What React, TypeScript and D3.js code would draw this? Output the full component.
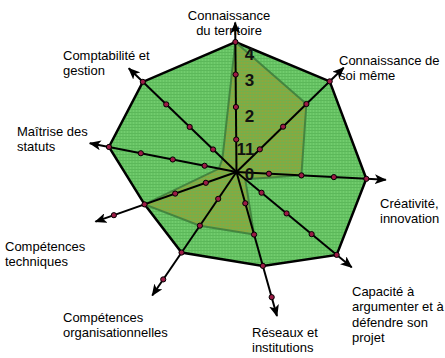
import * as d3 from "d3";

// axis categories (one entry per spoke, split over lines as in the picture)
const categories: string[][] = [
  ["Connaissance", "du territoire"],
  ["Connaissance de", "soi même"],
  ["Créativité,", "innovation"],
  ["Capacité à", "argumenter et à", "défendre son", "projet"],
  ["Réseaux et", "institutions"],
  ["Compétences", "organisationnelles"],
  ["Compétences", "techniques"],
  ["Maîtrise des", "statuts"],
  ["Comptabilité et", "gestion"],
];

// series values
const targetValues = [4, 4, 4, 4, 3, 3, 3, 4, 4];
const actualValues = [4, 3, 2, 0.35, 2, 2, 3, 0.55, 0.6];

// radial tick labels
const tickValues = [0, 1, 2, 3, 4];
const tickLabels = ["0", "11", "2", "3", "4"];

// layout: spoke directions (degrees, clockwise from up) — the source chart is not evenly spaced
const spokeAngles = [-0.5, 45.8, 93, 129.6, 164.3, 214.3, 250.6, 281.1, 313.9];
// layout: label anchors [x, first baseline, text-anchor]
const labelPos: [number, number, string][] = [
  [229, 20, "middle"],
  [339, 65, "start"],
  [380, 208, "start"],
  [352, 296, "start"],
  [252, 337, "start"],
  [63, 322, "start"],
  [5, 251, "start"],
  [17, 136, "start"],
  [63, 60, "start"],
];

const W = 445;
const H = 358;
const cx = 236.5;
const cy = 172;
const FONT = "Arial, 'Liberation Sans', sans-serif";

export default function App() {
  const r = d3.scaleLinear().domain([0, 4]).range([0, 130]);
  const axisEnd = 4.6;
  const rad = (i: number) => (spokeAngles[i] * Math.PI) / 180;

  const radar = d3
    .lineRadial<number>()
    .angle((_, i) => rad(i))
    .radius((d) => r(d))
    .curve(d3.curveLinearClosed);

  const levels = tickValues.filter((v) => v > 0);

  return (
    <svg
      width={W}
      height={H}
      style={{ position: "absolute", left: 0, top: 0, background: "#fff" }}
      fontFamily={FONT}
    >
      <defs>
        <pattern id="gGreen" width={3} height={3} patternUnits="userSpaceOnUse">
          <rect width={3} height={3} fill="#72cd6e" />
          <path d="M0 0.5H3M0.5 0V3" stroke="#5cb85a" strokeWidth={1} />
        </pattern>
        <pattern id="gOlive" width={3} height={3} patternUnits="userSpaceOnUse">
          <rect width={3} height={3} fill="#8fa63c" />
          <path d="M0 0.5H3M0.5 0V3" stroke="#72b04c" strokeWidth={1} />
        </pattern>
        <marker
          id="arrow"
          viewBox="0 0 12 10"
          refX={11}
          refY={5}
          markerWidth={12}
          markerHeight={10}
          markerUnits="userSpaceOnUse"
          orient="auto"
        >
          <path d="M0 0L12 5L0 10L3 5Z" fill="#000" />
        </marker>
      </defs>

      <g transform={`translate(${cx},${cy})`}>
        <path
          d={radar(targetValues) ?? ""}
          fill="url(#gGreen)"
          stroke="#000"
          strokeWidth={2.5}
          strokeLinejoin="miter"
        />
        <path
          d={radar(actualValues) ?? ""}
          fill="url(#gOlive)"
          stroke="#3c7d3c"
          strokeOpacity={0.85}
          strokeWidth={2}
        />

        {categories.map((_, i) => {
          const [x2, y2] = d3.pointRadial(rad(i), r(axisEnd));
          return (
            <line
              key={`ax${i}`}
              x1={0}
              y1={0}
              x2={x2}
              y2={y2}
              stroke="#000"
              strokeWidth={2}
              markerEnd="url(#arrow)"
            />
          );
        })}

        {categories.map((_, i) =>
          levels.map((v) => {
            const [x, y] = d3.pointRadial(rad(i), r(v));
            return (
              <circle
                key={`d${i}-${v}`}
                cx={x}
                cy={y}
                r={2.6}
                fill="#9b1b45"
                stroke="#000"
                strokeWidth={1}
              />
            );
          })
        )}

        {tickValues.map((v, i) => (
          <text
            key={`t${v}`}
            x={i === 1 ? 9 : 13}
            y={v === 0 ? 8 : -r(v) + (v === 4 ? 18 : v === 3 ? 11 : 15)}
            textAnchor="middle"
            fontSize={17}
            fontWeight="bold"
            fill="#111"
          >
            {tickLabels[i]}
          </text>
        ))}
      </g>

      {categories.map((lines, i) => (
        <text
          key={`c${i}`}
          x={labelPos[i][0]}
          y={labelPos[i][1]}
          textAnchor={labelPos[i][2]}
          fontSize={13}
          fill="#000"
        >
          {lines.map((ln, j) => (
            <tspan key={j} x={labelPos[i][0]} dy={j === 0 ? 0 : 15.3}>
              {ln}
            </tspan>
          ))}
        </text>
      ))}
    </svg>
  );
}
